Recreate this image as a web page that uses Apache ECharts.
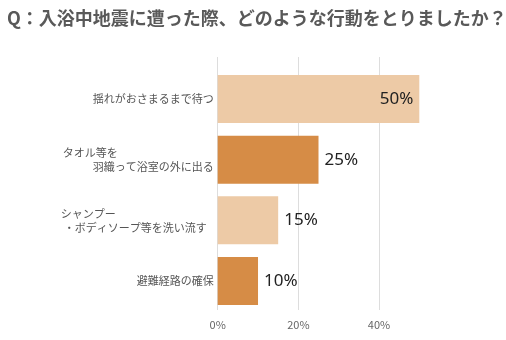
<!DOCTYPE html>
<html>
<head>
<meta charset="utf-8">
<script src="https://cdn.jsdelivr.net/npm/echarts@6/dist/echarts.min.js"></script>
<style>
  html, body { margin: 0; padding: 0; background: #fff; }
  #chart { width: 506px; height: 340px; }
</style>
</head>
<body>
<div id="chart"></div>
<script>
// Survey answers, top to bottom
const categories = [
  '揺れがおさまるまで待つ',
  'タオル等を\n羽織って浴室の外に出る',
  'シャンプー\n・ボディソープ等を洗い流す',
  '避難経路の確保'
];
const values = [50, 25, 15, 10];
const barColors = ['#EDCAA6', '#D68C46', '#EDCAA6', '#D68C46'];
const tickValues = [0, 20, 40];

const FONT = '"Noto Sans CJK JP", "Noto Sans", sans-serif';

// two-line labels: first line flush left, second line flush right
function labelFormatter(v) {
  const parts = v.split('\n');
  if (parts.length === 1) return v;
  if (parts[0] === 'タオル等を') {
    return '{a|' + parts[0] + '}\n{b|' + parts[1] + '}';
  }
  return '{c|' + parts[0] + '}\n{d|' + parts[1] + '}';
}

const chart = echarts.init(document.getElementById('chart'));
chart.setOption({
  backgroundColor: '#fff',
  animation: false,
  title: {
    text: 'Q：入浴中地震に遭った際、どのような行動をとりましたか？',
    left: 2,
    top: 4,
    textStyle: { fontFamily: FONT, fontSize: 18, fontWeight: 'bold', color: '#595959' }
  },
  grid: [
    { left: 217.7, right: 86.7, top: 68.7, bottom: 28.7 },
    { left: 217.7, right: 86.7, top: 57, bottom: 30 }
  ],
  xAxis: [
    {
      gridIndex: 0,
      type: 'value', min: 0, max: 50, interval: 20,
      axisLine: { show: false }, axisTick: { show: false },
      splitLine: { show: false },
      axisLabel: {
        showMaxLabel: false,
        margin: 8,
        fontFamily: FONT, fontSize: 11, color: '#666',
        formatter: function (v) { return tickValues.indexOf(v) >= 0 ? v + '%' : ''; }
      }
    },
    {
      // grid lines only
      gridIndex: 1,
      type: 'value', min: 0, max: 50, interval: 20,
      axisLine: { show: false }, axisTick: { show: false }, axisLabel: { show: false },
      splitLine: {
        show: true,
        lineStyle: { color: ['#dddddd', '#dddddd', '#dddddd', 'rgba(0,0,0,0)'], width: 1 }
      }
    }
  ],
  yAxis: [
    {
      gridIndex: 0,
      type: 'category', inverse: true, data: categories,
      axisLine: { show: false }, axisTick: { show: false },
      axisLabel: {
        margin: 4,
        fontFamily: FONT, fontSize: 11, color: '#555', lineHeight: 14,
        formatter: labelFormatter,
        rich: {
          a: { fontFamily: FONT, fontSize: 11, color: '#555', lineHeight: 14, width: 151, align: 'left' },
          b: { fontFamily: FONT, fontSize: 11, color: '#555', lineHeight: 14, align: 'right' },
          c: { fontFamily: FONT, fontSize: 11, color: '#555', lineHeight: 14, width: 153, align: 'left' },
          d: { fontFamily: FONT, fontSize: 11, color: '#555', lineHeight: 14, align: 'right', padding: [0, 7, 0, 0] }
        }
      }
    },
    {
      gridIndex: 1, type: 'value', show: false
    }
  ],
  series: [{
    type: 'bar',
    xAxisIndex: 0, yAxisIndex: 0,
    barCategoryGap: '21%',
    data: values.map(function (v, i) {
      return {
        value: v,
        itemStyle: { color: barColors[i] },
        label: i === 0 ? { position: 'insideRight', distance: 6 } : { position: 'right', distance: 6 }
      };
    }),
    label: {
      show: true,
      formatter: '{c}%',
      fontFamily: '"Noto Sans", sans-serif',
      fontSize: 17,
      color: '#222'
    }
  }]
});
</script>
</body>
</html>
